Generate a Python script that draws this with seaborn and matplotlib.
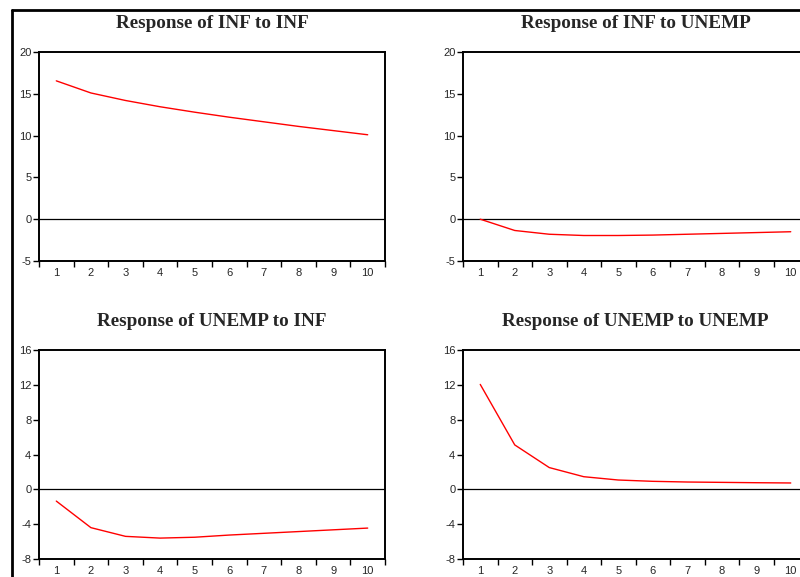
import numpy as np
import pandas as pd
import matplotlib
matplotlib.use("Agg")
import matplotlib.pyplot as plt
from matplotlib.lines import Line2D
import seaborn as sns

periods = list(range(1, 11))
inf_to_inf = [16.55, 15.1, 14.2, 13.45, 12.8, 12.2, 11.65, 11.1, 10.6, 10.1]
inf_to_unemp = [0.0, -1.35, -1.8, -1.95, -1.95, -1.9, -1.8, -1.7, -1.6, -1.5]
unemp_to_inf = [-1.35, -4.4, -5.4, -5.6, -5.5, -5.25, -5.05, -4.85, -4.65, -4.45]
unemp_to_unemp = [12.05, 5.1, 2.5, 1.45, 1.07, 0.92, 0.84, 0.8, 0.76, 0.73]

titles = ["Response of INF to INF", "Response of INF to UNEMP",
          "Response of UNEMP to INF", "Response of UNEMP to UNEMP"]
series = [inf_to_inf, inf_to_unemp, unemp_to_inf, unemp_to_unemp]
ylims = [(-5, 20), (-5, 20), (-8, 16), (-8, 16)]
yticks = [[-5, 0, 5, 10, 15, 20], [-5, 0, 5, 10, 15, 20],
          [-8, -4, 0, 4, 8, 12, 16], [-8, -4, 0, 4, 8, 12, 16]]

sns.set_style("white")
plt.rcParams['font.family'] = ['Liberation Sans', 'DejaVu Sans']
plt.rcParams['axes.unicode_minus'] = False

W, H = 800, 577
fig = plt.figure(figsize=(W / 100, H / 100), dpi=100)

# axes pixel boxes: (left, top, right, bottom)
boxes = [(39, 52, 385, 261), (463, 52, 808, 261),
         (39, 350, 385, 559), (463, 350, 808, 559)]

for box, title, vals, yl, yt in zip(boxes, titles, series, ylims, yticks):
    l, t, r, b = box
    ax = fig.add_axes([l / W, 1 - b / H, (r - l) / W, (b - t) / H])
    df = pd.DataFrame({"period": periods, "response": vals})
    ax.axhline(0, color="black", lw=0.9, zorder=1)
    sns.lineplot(data=df, x="period", y="response", ax=ax, color="#ff0000",
                 lw=1.0, zorder=3)
    ax.set_xlim(0.5, 10.5)
    ax.set_ylim(*yl)
    ax.set_yticks(yt)
    ax.set_xticks(periods)
    ax.set_xticks(np.arange(0.5, 11, 1.0), minor=True)
    ax.tick_params(axis="x", which="major", length=0, pad=5, labelsize=8)
    ax.tick_params(axis="x", which="minor", length=4.5, width=1, direction="out",
                   color="black", bottom=True)
    ax.tick_params(axis="y", which="major", length=4, width=1, direction="out",
                   color="black", pad=1.5, labelsize=8, left=True)
    ax.set_xlabel("")
    ax.set_ylabel("")
    for s in ax.spines.values():
        s.set_color("black")
        s.set_linewidth(1.4)
    ax.text(0.5, 1 + 24.5 / (b - t), title, transform=ax.transAxes,
            ha="center", va="baseline", fontsize=13.8, fontweight="bold",
            family=["Liberation Serif", "DejaVu Serif"])

# outer frame lines (top and left)
fig.add_artist(Line2D([12 / W, 1.0], [1 - 10 / H, 1 - 10 / H],
                      transform=fig.transFigure, color="black", lw=2))
fig.add_artist(Line2D([12 / W, 12 / W], [0, 1 - 10 / H],
                      transform=fig.transFigure, color="black", lw=2))

fig.savefig("out.png", dpi=100)
